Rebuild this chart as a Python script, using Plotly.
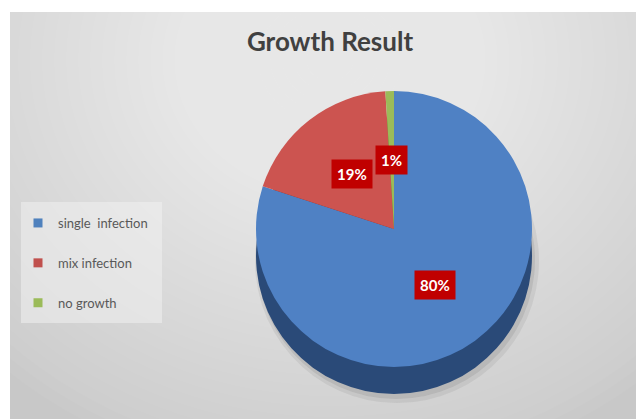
import numpy as np
import plotly.graph_objects as go

# ---- data ----
categories = ["single  infection", "mix infection", "no growth"]
values = [80, 19, 1]
labels_text = ["80%", "19%", "1%"]

# ---- styling ----
W, H = 636, 419
face_colors = ["#4f81c4", "#cc5450", "#9bbb59"]
side_colors = ["#2a4a78", "#7d2e2c", "#5f7a32"]
legend_colors = ["#4f81bd", "#c0504d", "#9bbb59"]

def px(x):
    return x / W

def py(y):
    return 1 - y / H

# pie geometry (pixels)
cx, cy, R = 394, 229, 138
depth = 27

def dom(cx_, cy_, r_):
    return dict(x=[px(cx_ - r_), px(cx_ + r_)], y=[py(cy_ + r_), py(cy_ - r_)])

fig = go.Figure()

# soft shadow
for off, rr, a in [(3, 142, 0.10), (2, 139, 0.14)]:
    fig.add_trace(go.Pie(
        values=values, labels=categories, sort=False, direction="clockwise", rotation=0,
        marker=dict(colors=[f"rgba(90,90,90,{a})"] * 3, line=dict(width=0)),
        textinfo="none", hoverinfo="skip", showlegend=False,
        domain=dom(cx + off, cy + depth + off + 2, rr)))

# side (depth)
fig.add_trace(go.Pie(
    values=values, labels=categories, sort=False, direction="clockwise", rotation=0,
    marker=dict(colors=side_colors, line=dict(width=0)),
    textinfo="none", hoverinfo="skip", showlegend=False,
    domain=dom(cx, cy + depth, R)))

# top face
fig.add_trace(go.Pie(
    values=values, labels=categories, sort=False, direction="clockwise", rotation=0,
    marker=dict(colors=face_colors, line=dict(width=0)),
    textinfo="none", showlegend=False,
    domain=dom(cx, cy, R)))

# legend entries
for i, name in enumerate(categories):
    fig.add_trace(go.Scatter(
        x=[None], y=[None], mode="markers", name=name, legendgroup=f"g{i}",
        marker=dict(symbol="square", size=9, color=legend_colors[i])))

# data labels: placed at half radius along each slice's mid-angle
total = sum(values)
cum = np.cumsum([0] + values)
annotations = []
for i, v in enumerate(values):
    mid = (cum[i] + v / 2) / total * 2 * np.pi  # clockwise from 12 o'clock
    lx = cx + 0.5 * R * np.sin(mid)
    ly = cy - 0.5 * R * np.cos(mid)
    annotations.append(dict(
        x=px(lx), y=py(ly), xref="paper", yref="paper", showarrow=False,
        xanchor="center", yanchor="middle",
        text=f"<b>{labels_text[i]}</b>", font=dict(family="Lato", size=15, color="white"),
        bgcolor="#c00000", borderpad=5))

# background shapes
shapes = [dict(type="rect", xref="paper", yref="paper", x0=px(10), x1=1, y0=0, y1=py(12),
               fillcolor="#c8c8c8", line=dict(width=0), layer="below")]
gx, gy = 330, 60
N = 40
for k in range(N):
    s = 1 - k / N
    rx, ry = 480 * s, 420 * s
    shapes.append(dict(type="circle", xref="paper", yref="paper",
                       x0=px(gx - rx), x1=px(gx + rx), y0=py(gy + ry), y1=py(gy - ry),
                       fillcolor="white", opacity=0.04, line=dict(width=0), layer="below"))
# white margins
shapes.append(dict(type="rect", xref="paper", yref="paper", x0=0, x1=px(10), y0=0, y1=1,
                   fillcolor="white", line=dict(width=0), layer="below"))
shapes.append(dict(type="rect", xref="paper", yref="paper", x0=0, x1=1, y0=py(12), y1=1,
                   fillcolor="white", line=dict(width=0), layer="below"))
# legend box
shapes.append(dict(type="rect", xref="paper", yref="paper", x0=px(21), x1=px(162),
                   y0=py(323), y1=py(202), fillcolor="rgba(240,240,240,0.55)",
                   line=dict(width=0), layer="below"))

fig.update_layout(
    width=W, height=H,
    margin=dict(l=0, r=0, t=0, b=0),
    paper_bgcolor="white", plot_bgcolor="rgba(0,0,0,0)",
    title=dict(text="<b>Growth Result</b>", x=px(330), xanchor="center",
               y=py(42), yanchor="middle",
               font=dict(family="Lato", size=26, color="#404040")),
    xaxis=dict(visible=False), yaxis=dict(visible=False),
    showlegend=True,
    legend=dict(x=px(18), y=py(208), xanchor="left", yanchor="top",
                bgcolor="rgba(0,0,0,0)", tracegroupgap=20,
                font=dict(family="Lato", size=13, color="#595959"),
                itemwidth=30),
    shapes=shapes,
    annotations=annotations,
)

fig.write_html("out.html")
